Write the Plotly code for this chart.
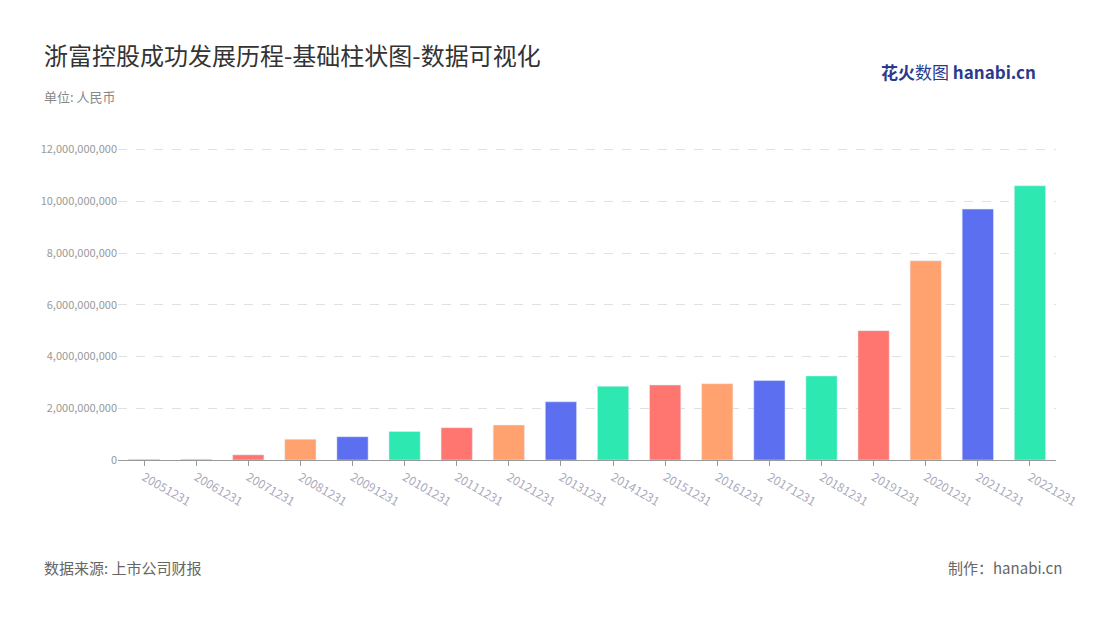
import plotly.graph_objects as go

years = ["20051231", "20061231", "20071231", "20081231", "20091231", "20101231",
         "20111231", "20121231", "20131231", "20141231", "20151231", "20161231",
         "20171231", "20181231", "20191231", "20201231", "20211231", "20221231"]
values = [20e6, 30e6, 200e6, 800e6, 900e6, 1.1e9, 1.25e9, 1.35e9, 2.25e9, 2.85e9,
          2.9e9, 2.95e9, 3.07e9, 3.25e9, 5.0e9, 7.7e9, 9.7e9, 10.6e9]
palette = ["#5B6FF0", "#2DE8B0", "#FF7670", "#FFA26F"]

FONT = "Noto Sans CJK SC"
W, H = 1084, 604  # page has an 8px body margin
OFF = 8
L, R, T, B = 110, 34, 139, 152

fig = go.Figure(go.Bar(
    x=years, y=values,
    marker_color=[palette[i % 4] for i in range(len(years))],
    width=0.6,
))

fig.update_layout(
    width=W, height=H,
    paper_bgcolor="white", plot_bgcolor="white",
    margin=dict(l=L, r=R, t=T, b=B),
    font=dict(family=FONT, color="#999"),
    showlegend=False,
    xaxis=dict(tickangle=30, tickfont=dict(size=12, color="#aab"),
               showline=True, linecolor="#999", ticks="outside", ticklen=5,
               tickcolor="#999"),
    yaxis=dict(range=[0, 12.1e9], tickvals=[0, 2e9, 4e9, 6e9, 8e9, 10e9, 12e9],
               tickformat=",d", tickfont=dict(size=11, color="#999"),
               gridcolor="#e0e0e0", griddash="dash", zeroline=False),
)

texts = [
    ("浙富控股成功发展历程-基础柱状图-数据可视化", 42, 55, 24, "#333", "left"),
    ("单位: 人民币", 42, 96, 13, "#888", "left"),
    ("数据来源: 上市公司财报", 42, 567, 15, "#666", "left"),
    ("制作：hanabi.cn", 1066, 567, 15, "#666", "right"),
    ("<b>花火</b>数图 <b>hanabi.cn</b>", 1040, 72, 17, "#2a3a8c", "right"),
]
for text, px, py, size, color, anchor in texts:
    fig.add_annotation(text=text, xref="paper", yref="paper", showarrow=False,
                       x=(px - OFF - L) / (W - L - R),
                       y=1 - (py - OFF - T) / (H - T - B),
                       xanchor=anchor, yanchor="middle",
                       font=dict(size=size, color=color, family=FONT))

fig.write_html("out.html")
